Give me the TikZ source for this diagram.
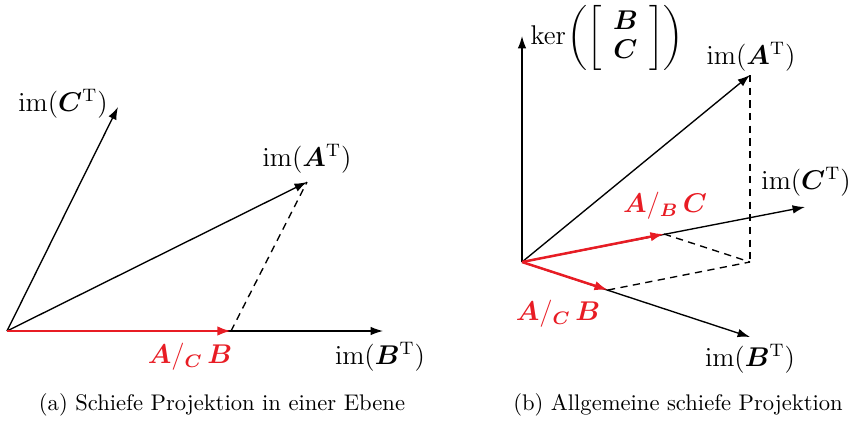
\documentclass[tikz,border=0pt]{standalone}
\usepackage{amsmath,bm}
\usetikzlibrary{arrows.meta}
\definecolor{projred}{RGB}{232,28,36}
\tikzset{
  vec/.style={line width=0.6pt,-{Latex[length=5.5pt,width=3.8pt]}},
  redvec/.style={line width=1.1pt,draw=projred,-{Latex[length=6pt,width=4.2pt]}},
  helper/.style={line width=0.6pt,dashed,dash pattern=on 3.2pt off 2.4pt},
  lbl/.style={font=\large,inner sep=0pt},
  redlbl/.style={font=\large,inner sep=0pt,text=projred},
  captext/.style={font=\normalsize,inner sep=0pt}
}
\begin{document}
\begin{tikzpicture}[x=0.4425pt,y=-0.4425pt]
\useasboundingbox (0,0) rectangle (850,422);
% ---------- (a)
\coordinate (Oa) at (7,331);
\coordinate (Ba) at (383,331);
\coordinate (Pa) at (231,331);
\coordinate (Aa) at (307,182);
\coordinate (Ca) at (118,107);
\draw[vec] (Oa) -- (Ba);
\draw[vec] (Oa) -- (Aa);
\draw[vec] (Oa) -- (Ca);
\draw[helper] (Pa) -- (Aa);
\draw[redvec] (Oa) -- (Pa);
\node[lbl] (lCa) at (63,104) {$\mathrm{im}(\bm{C}^{\mathrm{T}})$};
\node[lbl] (lAa) at (307,159) {$\mathrm{im}(\bm{A}^{\mathrm{T}})$};
\node[lbl] (lBa) at (380,357) {$\mathrm{im}(\bm{B}^{\mathrm{T}})$};
\node[redlbl] (lPa) at (190,357) {$\bm{A}/_{\bm{C}}\,\bm{B}$};
% ---------- (b)
\coordinate (Ob) at (522,262);
\coordinate (Kb) at (522,36);
\coordinate (Ab) at (750,75);
\coordinate (Cb) at (805,207);
\coordinate (Bb) at (750,337);
\coordinate (PCb) at (664,234);
\coordinate (PBb) at (608,290);
\coordinate (Qb) at (750,262);
\draw[vec] (Ob) -- (Kb);
\draw[vec] (Ob) -- (Ab);
\draw[vec] (Ob) -- (Cb);
\draw[vec] (Ob) -- (Bb);
\draw[helper] (Ab) -- (Qb);
\draw[helper] (PCb) -- (Qb);
\draw[helper] (PBb) -- (Qb);
\draw[redvec] (Ob) -- (PCb);
\draw[redvec] (Ob) -- (PBb);
\node[lbl] (lKb) at (607,38) {\renewcommand{\arraystretch}{0.92}$\mathrm{ker}\mkern-2mu\left(\left[\begin{array}{c}\bm{B}\\ \bm{C}\end{array}\right]\right)$};
\node[lbl] (lAb) at (751,57) {$\mathrm{im}(\bm{A}^{\mathrm{T}})$};
\node[lbl] (lCb) at (806,182) {$\mathrm{im}(\bm{C}^{\mathrm{T}})$};
\node[lbl] (lBb) at (750,359) {$\mathrm{im}(\bm{B}^{\mathrm{T}})$};
\node[redlbl] (lPCb) at (665,206) {$\bm{A}/_{\bm{B}}\,\bm{C}$};
\node[redlbl] (lPBb) at (558,314) {$\bm{A}/_{\bm{C}}\,\bm{B}$};
% ---------- captions
\node[captext] (capa) at (222,405) {(a) Schiefe Projektion in einer Ebene};
\node[captext] (capb) at (678,405) {(b) Allgemeine schiefe Projektion};
\end{tikzpicture}
\end{document}
